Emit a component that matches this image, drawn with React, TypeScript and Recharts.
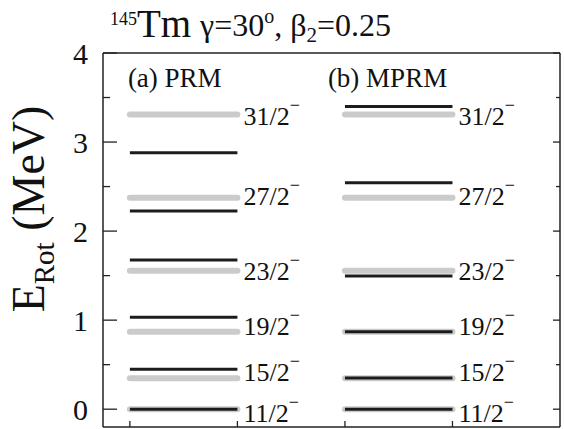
import { LineChart, XAxis, YAxis, ReferenceLine, ReferenceDot, Label } from 'recharts'

const spins = ['11/2', '15/2', '19/2', '23/2', '27/2', '31/2']
// experimental levels (gray), same in both panels
const exptLevels = [0, 0.348, 0.871, 1.556, 2.375, 3.31]
const prmLevels = [0, 0.449, 1.032, 1.676, 2.225, 2.88]
const mprmLevels = [0, 0.35, 0.87, 1.496, 2.543, 3.4]
const spinLabelY = [-0.04, 0.42, 0.94, 1.55, 2.39, 3.29]
const panelNames = ['(a) PRM', '(b) MPRM']
const yTicks = [0, 0.5, 1, 1.5, 2, 2.5, 3, 3.5, 4]
const xTicks = [0, 1, 2, 3]

const FONT = '"Liberation Serif", "Times New Roman", serif'
const AXIS = '#222'
const GRAY = '#cbcbcb'
const BLACK = '#1c1c1c'

const panels = [
  { name: panelNames[0], from: 0, to: 1, nameX: 0, theory: prmLevels },
  { name: panelNames[1], from: 2, to: 3, nameX: 1.86, theory: mprmLevels },
]

function LeftTick(props: any) {
  const { x, y, payload } = props
  const v = payload.value
  const major = Number.isInteger(v)
  return (
    <g>
      <line x1={x} x2={x + (major ? 14 : 7)} y1={y} y2={y} stroke={AXIS} strokeWidth={1.3} />
      {major && (
        <text x={x - 15} y={y} dy="0.35em" textAnchor="end" fontSize={30} fontFamily={FONT} fill="#111">
          {v}
        </text>
      )}
    </g>
  )
}

function RightTick(props: any) {
  const { x, y, payload } = props
  const major = Number.isInteger(payload.value)
  return <line x1={x} x2={x - (major ? 7 : 4)} y1={y} y2={y} stroke={AXIS} strokeWidth={1.3} />
}

function BottomTick(props: any) {
  const { x, y } = props
  return <line x1={x} x2={x} y1={y} y2={y - 6} stroke={AXIS} strokeWidth={1.3} />
}

function TopTick(props: any) {
  const { x, y } = props
  return <line x1={x} x2={x} y1={y} y2={y + 6} stroke={AXIS} strokeWidth={1.3} />
}

function TitleContent() {
  return (
    <g fontFamily={FONT} fill="#111">
      <text x={110} y={25} fontSize={18}>145</text>
      <text x={137} y={37} fontSize={39}>Tm</text>
      <text x={200} y={36} fontSize={32}>
        γ=30
        <tspan fontSize={20} dy={-13}>o</tspan>
        <tspan dy={13}>, β</tspan>
        <tspan fontSize={21} dy={6}>2</tspan>
        <tspan dy={-6}>=0.25</tspan>
      </text>
    </g>
  )
}

function YTitleContent() {
  const cx = 44
  const cy = 209
  return (
    <text
      x={cx}
      y={cy}
      transform={`rotate(-90, ${cx}, ${cy})`}
      textAnchor="middle"
      fontFamily={FONT}
      fill="#111"
      fontSize={46}
    >
      E<tspan fontSize={29} dy={10}>Rot</tspan>
      <tspan dy={-10}> (MeV)</tspan>
    </text>
  )
}

function spinLabel(text: string) {
  return (props: any) => {
    const { viewBox } = props
    const cx = viewBox.x + viewBox.width / 2
    const cy = viewBox.y + viewBox.height / 2
    return (
      <text x={cx + 6} y={cy} dy="0.35em" fontSize={26} fontFamily={FONT} fill="#111">
        {text}
        <tspan fontSize={18} dy={-14}>−</tspan>
      </text>
    )
  }
}

function panelLabel(text: string) {
  return (props: any) => {
    const { viewBox } = props
    const cx = viewBox.x + viewBox.width / 2
    const cy = viewBox.y + viewBox.height / 2
    return (
      <text x={cx - 2} y={cy} dy="0.35em" fontSize={27} fontFamily={FONT} fill="#111">
        {text}
      </text>
    )
  }
}

export default function App() {
  return (
    <div style={{ position: 'absolute', left: 0, top: 0, background: '#fff' }}>
      <LineChart width={564} height={429} margin={{ top: 52, right: 3, bottom: 1, left: 0 }}>
        <XAxis
          type="number"
          dataKey="x"
          domain={[-0.25, 4]}
          ticks={xTicks}
          height={1}
          tickSize={0}
          tickMargin={0}
          tick={BottomTick}
          tickLine={false}
          axisLine={{ stroke: AXIS, strokeWidth: 1.5 }}
          allowDataOverflow
        />
        <XAxis
          xAxisId="top"
          orientation="top"
          type="number"
          domain={[-0.25, 4]}
          ticks={xTicks}
          height={1}
          tickSize={0}
          tickMargin={0}
          tick={TopTick}
          tickLine={false}
          axisLine={{ stroke: AXIS, strokeWidth: 1.5 }}
          allowDataOverflow
        >
          <Label content={TitleContent} />
        </XAxis>
        <YAxis
          type="number"
          domain={[-0.2, 4]}
          ticks={yTicks}
          width={103}
          tickSize={0}
          tickMargin={0}
          tick={LeftTick}
          tickLine={false}
          axisLine={{ stroke: AXIS, strokeWidth: 1.5 }}
          allowDataOverflow
        >
          <Label content={YTitleContent} />
        </YAxis>
        <YAxis
          yAxisId="right"
          orientation="right"
          type="number"
          domain={[-0.2, 4]}
          ticks={yTicks}
          width={1}
          tickSize={0}
          tickMargin={0}
          tick={RightTick}
          tickLine={false}
          axisLine={{ stroke: AXIS, strokeWidth: 1.5 }}
          allowDataOverflow
        />

        {panels.map((p) =>
          exptLevels.map((e, i) => (
            <ReferenceLine
              key={`g-${p.name}-${i}`}
              segment={[
                { x: p.from, y: e },
                { x: p.to, y: e },
              ]}
              stroke={GRAY}
              strokeWidth={6}
              strokeLinecap="round"
            />
          ))
        )}
        {panels.map((p) =>
          p.theory.map((e, i) => (
            <ReferenceLine
              key={`b-${p.name}-${i}`}
              segment={[
                { x: p.from, y: e },
                { x: p.to, y: e },
              ]}
              stroke={BLACK}
              strokeWidth={3}
            />
          ))
        )}
        {panels.map((p) =>
          spins.map((s, i) => (
            <ReferenceDot
              key={`l-${p.name}-${i}`}
              x={p.to}
              y={spinLabelY[i]}
              r={1}
              fill="none"
              stroke="none"
              label={{ content: spinLabel(s) }}
            />
          ))
        )}
        {panels.map((p) => (
          <ReferenceDot
            key={`n-${p.name}`}
            x={p.nameX}
            y={3.72}
            r={1}
            fill="none"
            stroke="none"
            label={{ content: panelLabel(p.name) }}
          />
        ))}
      </LineChart>
    </div>
  )
}
